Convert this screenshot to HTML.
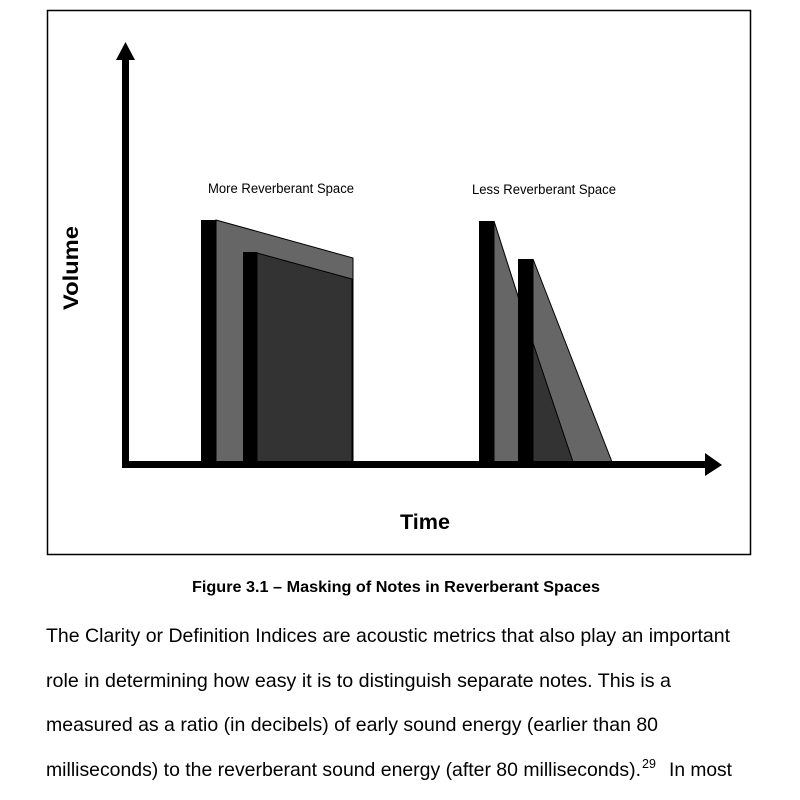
<!DOCTYPE html>
<html><head><meta charset="utf-8"><style>
html,body{margin:0;padding:0;background:#fff;}
svg{display:block;}
</style></head><body>
<svg width="800" height="800" viewBox="0 0 800 800" xmlns="http://www.w3.org/2000/svg" font-family="Liberation Sans, Arial, sans-serif">
<rect x="47.5" y="10.5" width="703" height="544" fill="none" stroke="#000" stroke-width="1.5"/>
<polygon points="216,220 353,258 353,462 216,462" fill="#666" stroke="#000" stroke-width="1"/>
<polygon points="257,253 352,279 352,462 257,462" fill="#333" stroke="#000" stroke-width="1"/>
<rect x="201" y="220" width="15" height="244" fill="#000"/>
<rect x="243" y="252" width="14" height="212" fill="#000"/>
<polygon points="494,221 571,462 494,462" fill="#666" stroke="#000" stroke-width="1"/>
<polygon points="533,259 612,462 533,462" fill="#666" stroke="#000" stroke-width="1"/>
<polygon points="533,343 573,462 533,462" fill="#333" stroke="#000" stroke-width="1"/>
<rect x="479" y="221" width="15" height="243" fill="#000"/>
<rect x="518" y="259" width="15" height="205" fill="#000"/>
<rect x="122" y="58" width="7" height="410" fill="#000"/>
<polygon points="125.5,42 116,60 135,60" fill="#000"/>
<rect x="122" y="461" width="586" height="7" fill="#000"/>
<polygon points="722,465 705,453 705,476" fill="#000"/>
<text x="208" y="193" font-size="13.5" textLength="146" lengthAdjust="spacingAndGlyphs">More Reverberant Space</text>
<text x="472" y="194" font-size="13.5" textLength="144" lengthAdjust="spacingAndGlyphs">Less Reverberant Space</text>
<text transform="translate(78,268) rotate(-90)" text-anchor="middle" font-size="21" font-weight="bold" textLength="84" lengthAdjust="spacingAndGlyphs">Volume</text>
<text x="400" y="529" font-size="21" font-weight="bold" textLength="50" lengthAdjust="spacingAndGlyphs">Time</text>
<text x="192" y="592" font-size="16" font-weight="bold" textLength="408" lengthAdjust="spacingAndGlyphs">Figure 3.1 – Masking of Notes in Reverberant Spaces</text>
<text x="46" y="642" font-size="19.5" textLength="684" lengthAdjust="spacingAndGlyphs">The Clarity or Definition Indices are acoustic metrics that also play an important</text>
<text x="46" y="687" font-size="19.5" textLength="625" lengthAdjust="spacingAndGlyphs">role in determining how easy it is to distinguish separate notes.  This is a</text>
<text x="46" y="731" font-size="19.5" textLength="612" lengthAdjust="spacingAndGlyphs">measured as a ratio (in decibels) of early sound energy (earlier than 80</text>
<text x="46" y="776" font-size="19.5" textLength="595" lengthAdjust="spacingAndGlyphs">milliseconds) to the reverberant sound energy (after 80 milliseconds).</text>
<text x="642" y="768" font-size="12.5">29</text>
<text x="669" y="776" font-size="19.5" textLength="63" lengthAdjust="spacingAndGlyphs">In most</text>
</svg>
</body></html>
